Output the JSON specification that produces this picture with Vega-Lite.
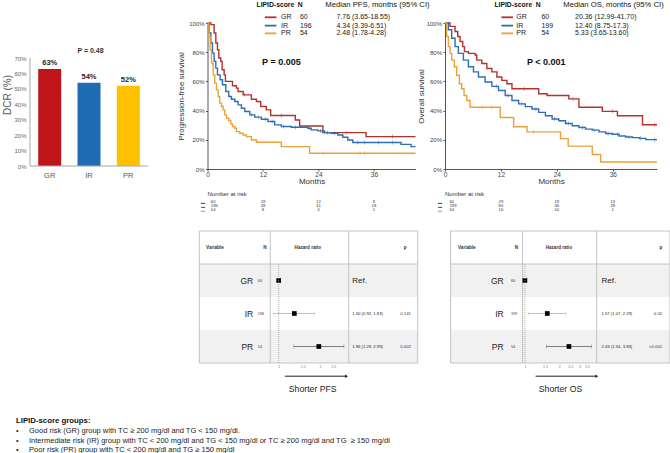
{
 "padding": {"left": 2, "top": 1, "right": 0, "bottom": 0},
 "config": {
  "font": "Liberation Sans",
  "view": {"stroke": null},
  "axis": {"grid": false, "domainColor": "#555", "tickColor": "#555", "labelColor": "#444", "titleColor": "#333", "titleFontWeight": "normal", "labelOverlap": false}
 },
 "datasets": {
  "dcr": [{"group": "GR", "dcr": 0.63}, {"group": "IR", "dcr": 0.54}, {"group": "PR", "dcr": 0.52}],
  "pfs": [
   {"group": "GR", "t": 0, "s": 1}, {"group": "GR", "t": 0.72, "s": 0.989}, {"group": "GR", "t": 1.44, "s": 0.931}, {"group": "GR", "t": 1.8, "s": 0.863}, {"group": "GR", "t": 2.16, "s": 0.817}, {"group": "GR", "t": 2.45, "s": 0.76}, {"group": "GR", "t": 2.88, "s": 0.737}, {"group": "GR", "t": 3.17, "s": 0.68}, {"group": "GR", "t": 3.6, "s": 0.645}, {"group": "GR", "t": 3.88, "s": 0.6}, {"group": "GR", "t": 5.4, "s": 0.57}, {"group": "GR", "t": 6.26, "s": 0.554}, {"group": "GR", "t": 6.62, "s": 0.531}, {"group": "GR", "t": 7.7, "s": 0.508}, {"group": "GR", "t": 9.5, "s": 0.478}, {"group": "GR", "t": 10.58, "s": 0.462}, {"group": "GR", "t": 11.51, "s": 0.428}, {"group": "GR", "t": 12.73, "s": 0.405}, {"group": "GR", "t": 13.67, "s": 0.366}, {"group": "GR", "t": 19.0, "s": 0.336}, {"group": "GR", "t": 19.93, "s": 0.295}, {"group": "GR", "t": 24.96, "s": 0.249}, {"group": "GR", "t": 34.3, "s": 0.222}, {"group": "GR", "t": 45, "s": 0.222},
   {"group": "IR", "t": 0, "s": 1}, {"group": "IR", "t": 0.36, "s": 0.931}, {"group": "IR", "t": 0.72, "s": 0.863}, {"group": "IR", "t": 1.08, "s": 0.794}, {"group": "IR", "t": 1.44, "s": 0.737}, {"group": "IR", "t": 1.8, "s": 0.691}, {"group": "IR", "t": 2.16, "s": 0.645}, {"group": "IR", "t": 2.73, "s": 0.611}, {"group": "IR", "t": 3.24, "s": 0.577}, {"group": "IR", "t": 3.96, "s": 0.531}, {"group": "IR", "t": 4.6, "s": 0.497}, {"group": "IR", "t": 5.18, "s": 0.478}, {"group": "IR", "t": 5.9, "s": 0.462}, {"group": "IR", "t": 6.62, "s": 0.439}, {"group": "IR", "t": 7.34, "s": 0.416}, {"group": "IR", "t": 8.06, "s": 0.394}, {"group": "IR", "t": 9.14, "s": 0.371}, {"group": "IR", "t": 10.22, "s": 0.355}, {"group": "IR", "t": 11.65, "s": 0.341}, {"group": "IR", "t": 13.09, "s": 0.325}, {"group": "IR", "t": 14.53, "s": 0.302}, {"group": "IR", "t": 15.97, "s": 0.291}, {"group": "IR", "t": 18.13, "s": 0.286}, {"group": "IR", "t": 21.73, "s": 0.279}, {"group": "IR", "t": 22.45, "s": 0.268}, {"group": "IR", "t": 23.88, "s": 0.261}, {"group": "IR", "t": 25.32, "s": 0.249}, {"group": "IR", "t": 26.76, "s": 0.245}, {"group": "IR", "t": 28.2, "s": 0.233}, {"group": "IR", "t": 29.28, "s": 0.217}, {"group": "IR", "t": 30.36, "s": 0.199}, {"group": "IR", "t": 31.44, "s": 0.181}, {"group": "IR", "t": 41.87, "s": 0.169}, {"group": "IR", "t": 44.03, "s": 0.153}, {"group": "IR", "t": 45, "s": 0.153},
   {"group": "PR", "t": 0, "s": 1}, {"group": "PR", "t": 0.29, "s": 0.908}, {"group": "PR", "t": 0.58, "s": 0.817}, {"group": "PR", "t": 0.86, "s": 0.725}, {"group": "PR", "t": 1.22, "s": 0.645}, {"group": "PR", "t": 1.58, "s": 0.588}, {"group": "PR", "t": 1.94, "s": 0.542}, {"group": "PR", "t": 2.3, "s": 0.497}, {"group": "PR", "t": 2.66, "s": 0.451}, {"group": "PR", "t": 3.02, "s": 0.428}, {"group": "PR", "t": 3.38, "s": 0.405}, {"group": "PR", "t": 3.74, "s": 0.371}, {"group": "PR", "t": 4.1, "s": 0.348}, {"group": "PR", "t": 4.6, "s": 0.332}, {"group": "PR", "t": 5.04, "s": 0.309}, {"group": "PR", "t": 5.4, "s": 0.291}, {"group": "PR", "t": 5.9, "s": 0.279}, {"group": "PR", "t": 6.26, "s": 0.256}, {"group": "PR", "t": 6.98, "s": 0.245}, {"group": "PR", "t": 7.7, "s": 0.233}, {"group": "PR", "t": 8.42, "s": 0.222}, {"group": "PR", "t": 9.5, "s": 0.199}, {"group": "PR", "t": 10.58, "s": 0.183}, {"group": "PR", "t": 15.97, "s": 0.153}, {"group": "PR", "t": 22.09, "s": 0.108}, {"group": "PR", "t": 45, "s": 0.108}
  ],
  "pfsCens": [
   {"group": "IR", "t": 9.5, "s": 0.371}, {"group": "IR", "t": 11, "s": 0.355}, {"group": "IR", "t": 12.5, "s": 0.341}, {"group": "IR", "t": 14, "s": 0.325}, {"group": "IR", "t": 16.5, "s": 0.291}, {"group": "IR", "t": 19, "s": 0.286}, {"group": "IR", "t": 22, "s": 0.279}, {"group": "IR", "t": 24.5, "s": 0.261}, {"group": "IR", "t": 27.5, "s": 0.245}, {"group": "IR", "t": 32.5, "s": 0.181}, {"group": "IR", "t": 34, "s": 0.181}, {"group": "IR", "t": 37, "s": 0.181}, {"group": "IR", "t": 40, "s": 0.181},
   {"group": "GR", "t": 8, "s": 0.508}, {"group": "GR", "t": 16, "s": 0.366}, {"group": "GR", "t": 26, "s": 0.249}, {"group": "GR", "t": 30, "s": 0.249}, {"group": "GR", "t": 40, "s": 0.222},
   {"group": "PR", "t": 25, "s": 0.108}, {"group": "PR", "t": 33, "s": 0.108}, {"group": "PR", "t": 34, "s": 0.108}
  ],
  "os": [
   {"group": "GR", "t": 0, "s": 1}, {"group": "GR", "t": 1.08, "s": 0.977}, {"group": "GR", "t": 2.16, "s": 0.942}, {"group": "GR", "t": 2.73, "s": 0.908}, {"group": "GR", "t": 3.23, "s": 0.873}, {"group": "GR", "t": 3.81, "s": 0.838}, {"group": "GR", "t": 4.17, "s": 0.804}, {"group": "GR", "t": 5.03, "s": 0.792}, {"group": "GR", "t": 6.47, "s": 0.781}, {"group": "GR", "t": 6.82, "s": 0.746}, {"group": "GR", "t": 7.9, "s": 0.723}, {"group": "GR", "t": 8.98, "s": 0.688}, {"group": "GR", "t": 10.06, "s": 0.665}, {"group": "GR", "t": 11.14, "s": 0.63}, {"group": "GR", "t": 12.21, "s": 0.607}, {"group": "GR", "t": 13.29, "s": 0.584}, {"group": "GR", "t": 14.37, "s": 0.55}, {"group": "GR", "t": 20.11, "s": 0.515}, {"group": "GR", "t": 21.91, "s": 0.503}, {"group": "GR", "t": 26.58, "s": 0.48}, {"group": "GR", "t": 28.74, "s": 0.423}, {"group": "GR", "t": 33.76, "s": 0.395}, {"group": "GR", "t": 37.0, "s": 0.365}, {"group": "GR", "t": 42.39, "s": 0.303}, {"group": "GR", "t": 45.5, "s": 0.303},
   {"group": "IR", "t": 0, "s": 1}, {"group": "IR", "t": 0.72, "s": 0.954}, {"group": "IR", "t": 1.44, "s": 0.896}, {"group": "IR", "t": 2.16, "s": 0.838}, {"group": "IR", "t": 2.87, "s": 0.792}, {"group": "IR", "t": 3.95, "s": 0.746}, {"group": "IR", "t": 5.03, "s": 0.7}, {"group": "IR", "t": 6.11, "s": 0.665}, {"group": "IR", "t": 7.18, "s": 0.63}, {"group": "IR", "t": 8.62, "s": 0.596}, {"group": "IR", "t": 10.06, "s": 0.566}, {"group": "IR", "t": 11.49, "s": 0.538}, {"group": "IR", "t": 12.93, "s": 0.503}, {"group": "IR", "t": 14.37, "s": 0.469}, {"group": "IR", "t": 15.8, "s": 0.446}, {"group": "IR", "t": 17.24, "s": 0.427}, {"group": "IR", "t": 18.68, "s": 0.411}, {"group": "IR", "t": 20.11, "s": 0.388}, {"group": "IR", "t": 21.55, "s": 0.365}, {"group": "IR", "t": 22.99, "s": 0.342}, {"group": "IR", "t": 24.43, "s": 0.33}, {"group": "IR", "t": 25.86, "s": 0.312}, {"group": "IR", "t": 27.3, "s": 0.296}, {"group": "IR", "t": 28.74, "s": 0.284}, {"group": "IR", "t": 30.17, "s": 0.273}, {"group": "IR", "t": 31.61, "s": 0.266}, {"group": "IR", "t": 33.05, "s": 0.254}, {"group": "IR", "t": 34.48, "s": 0.243}, {"group": "IR", "t": 35.92, "s": 0.238}, {"group": "IR", "t": 37.36, "s": 0.226}, {"group": "IR", "t": 38.79, "s": 0.219}, {"group": "IR", "t": 40.23, "s": 0.215}, {"group": "IR", "t": 41.67, "s": 0.21}, {"group": "IR", "t": 43.1, "s": 0.201}, {"group": "IR", "t": 45.5, "s": 0.201},
   {"group": "PR", "t": 0, "s": 1}, {"group": "PR", "t": 0.36, "s": 0.908}, {"group": "PR", "t": 0.72, "s": 0.838}, {"group": "PR", "t": 1.08, "s": 0.792}, {"group": "PR", "t": 1.44, "s": 0.746}, {"group": "PR", "t": 2.01, "s": 0.7}, {"group": "PR", "t": 2.51, "s": 0.642}, {"group": "PR", "t": 3.09, "s": 0.584}, {"group": "PR", "t": 3.59, "s": 0.55}, {"group": "PR", "t": 4.09, "s": 0.503}, {"group": "PR", "t": 4.67, "s": 0.469}, {"group": "PR", "t": 5.39, "s": 0.423}, {"group": "PR", "t": 11.85, "s": 0.353}, {"group": "PR", "t": 14.73, "s": 0.289}, {"group": "PR", "t": 17.6, "s": 0.254}, {"group": "PR", "t": 24.78, "s": 0.208}, {"group": "PR", "t": 26.44, "s": 0.157}, {"group": "PR", "t": 31.61, "s": 0.099}, {"group": "PR", "t": 33.41, "s": 0.048}, {"group": "PR", "t": 45.5, "s": 0.048}
  ],
  "osCens": [
   {"group": "IR", "t": 11, "s": 0.566}, {"group": "IR", "t": 13.5, "s": 0.503}, {"group": "IR", "t": 16.5, "s": 0.446}, {"group": "IR", "t": 19.5, "s": 0.411}, {"group": "IR", "t": 23.5, "s": 0.342}, {"group": "IR", "t": 26.5, "s": 0.312}, {"group": "IR", "t": 29.5, "s": 0.284}, {"group": "IR", "t": 32, "s": 0.266}, {"group": "IR", "t": 35, "s": 0.243}, {"group": "IR", "t": 37, "s": 0.238}, {"group": "IR", "t": 39.5, "s": 0.219}, {"group": "IR", "t": 42, "s": 0.21}, {"group": "IR", "t": 45, "s": 0.201},
   {"group": "GR", "t": 17, "s": 0.55}, {"group": "GR", "t": 27.5, "s": 0.48}, {"group": "GR", "t": 36, "s": 0.395}, {"group": "GR", "t": 45, "s": 0.303},
   {"group": "PR", "t": 8, "s": 0.423}, {"group": "PR", "t": 10, "s": 0.423}, {"group": "PR", "t": 19, "s": 0.254}
  ],
  "pfsLegend": [{"group": "GR", "n": "60", "median": "7.76 (3.65-18.55)"}, {"group": "IR", "n": "196", "median": "4.34 (3.39-6.51)"}, {"group": "PR", "n": "54", "median": "2.48 (1.78-4.28)"}],
  "osLegend": [{"group": "GR", "n": "60", "median": "20.36 (12.99-41.70)"}, {"group": "IR", "n": "199", "median": "12.40 (8.75-17.3)"}, {"group": "PR", "n": "54", "median": "5.33 (3.65-13.60)"}],
  "pfsRisk": [
   {"group": "GR", "time": 0, "n": 60}, {"group": "GR", "time": 12, "n": 19}, {"group": "GR", "time": 24, "n": 12}, {"group": "GR", "time": 36, "n": 8},
   {"group": "IR", "time": 0, "n": 196}, {"group": "IR", "time": 12, "n": 49}, {"group": "IR", "time": 24, "n": 31}, {"group": "IR", "time": 36, "n": 18},
   {"group": "PR", "time": 0, "n": 54}, {"group": "PR", "time": 12, "n": 8}, {"group": "PR", "time": 24, "n": 4}, {"group": "PR", "time": 36, "n": 1}
  ],
  "osRisk": [
   {"group": "GR", "time": 0, "n": 60}, {"group": "GR", "time": 12, "n": 29}, {"group": "GR", "time": 24, "n": 19}, {"group": "GR", "time": 36, "n": 13},
   {"group": "IR", "time": 0, "n": 199}, {"group": "IR", "time": 12, "n": 84}, {"group": "IR", "time": 24, "n": 46}, {"group": "IR", "time": 36, "n": 28},
   {"group": "PR", "time": 0, "n": 54}, {"group": "PR", "time": 12, "n": 16}, {"group": "PR", "time": 24, "n": 10}, {"group": "PR", "time": 36, "n": 1}
  ],
  "pfsHR": [
   {"group": "GR", "n": "60", "hr": 1, "lo": null, "hi": null, "hrText": "Ref.", "p": ""},
   {"group": "IR", "n": "196", "hr": 1.30, "lo": 0.92, "hi": 1.83, "hrText": "1.30 (0.92, 1.83)", "p": "0.141"},
   {"group": "PR", "n": "54", "hr": 1.96, "lo": 1.29, "hi": 2.99, "hrText": "1.96 (1.29, 2.99)", "p": "0.002"}
  ],
  "osHR": [
   {"group": "GR", "n": "60", "hr": 1, "lo": null, "hi": null, "hrText": "Ref.", "p": ""},
   {"group": "IR", "n": "199", "hr": 1.57, "lo": 1.07, "hi": 2.29, "hrText": "1.57 (1.07, 2.29)", "p": "0.02"},
   {"group": "PR", "n": "54", "hr": 2.43, "lo": 1.54, "hi": 3.83, "hrText": "2.43 (1.54, 3.83)", "p": "<0.001"}
  ]
 },
 "title": {
  "text": "LIPID-score groups:",
  "subtitle": [
   "•\u00a0\u00a0\u00a0\u00a0\u00a0Good risk (GR) group with TC ≥ 200 mg/dl and TG < 150 mg/dl.",
   "•\u00a0\u00a0\u00a0\u00a0\u00a0Intermediate risk (IR) group with TC < 200 mg/dl and TG < 150 mg/dl or TC ≥ 200 mg/dl and TG \u00a0≥ 150 mg/dl",
   "•\u00a0\u00a0\u00a0\u00a0\u00a0Poor risk (PR) group with TC < 200 mg/dl and TG ≥ 150 mg/dl"
  ],
  "orient": "bottom", "anchor": "start", "frame": "bounds", "offset": 23, "dx": 13,
  "fontSize": 7.8, "fontWeight": "bold", "color": "#111",
  "subtitleFontSize": 7.5, "subtitleColor": "#222", "subtitleLineHeight": 9.8, "subtitlePadding": 2
 },
 "resolve": {"scale": {"color": "independent"}},
 "spacing": 17,
 "vconcat": [
  {
   "spacing": 5,
   "resolve": {"scale": {"color": "independent"}},
   "vconcat": [
    {
     "bounds": "flush", "spacing": 29.5,
     "resolve": {"scale": {"color": "independent"}},
     "hconcat": [
      {
       "width": 147.5, "height": 143,
       "resolve": {"scale": {"x": "independent"}},
       "layer": [
        {
         "data": {"name": "dcr"},
         "encoding": {
          "x": {"field": "group", "type": "nominal", "scale": {"domain": ["GR", "IR", "PR"], "paddingInner": 0.415, "paddingOuter": 0.584, "align": 0.179}, "axis": {"title": null, "labelAngle": 0, "domain": false, "ticks": false, "tickSize": 0, "labelFontSize": 7.5, "labelColor": "#595959", "labelPadding": 5}},
          "y": {"field": "dcr", "type": "quantitative", "scale": {"domain": [0, 0.928], "nice": false}, "axis": {"values": [0, 0.1, 0.2, 0.3, 0.4, 0.5, 0.6, 0.7], "tickCount": 8, "format": ".0%", "title": "DCR (%)", "domain": false, "ticks": false, "tickSize": 0, "labelFontSize": 6, "labelColor": "#666", "labelPadding": 4, "titleFontSize": 10, "titleColor": "#595959", "titlePadding": 1}}
         },
         "layer": [
          {"mark": {"type": "bar"}, "encoding": {"color": {"field": "group", "type": "nominal", "scale": {"domain": ["GR", "IR", "PR"], "range": ["#C0141B", "#1F6CB5", "#FFC000"]}, "legend": null}}},
          {"mark": {"type": "text", "dy": -6, "fontWeight": "bold", "fontSize": 7.5, "color": "#262626"}, "encoding": {"text": {"field": "dcr", "type": "quantitative", "format": ".0%"}}}
         ]
        },
        {
         "data": {"values": [{}]},
         "layer": [
          {"mark": {"type": "rule", "color": "#a6a6a6", "strokeWidth": 1}, "encoding": {"x": {"datum": 0, "type": "quantitative", "scale": {"domain": [0, 1], "nice": false}, "axis": null}, "x2": {"datum": 0.8}, "y": {"datum": 0}}},
          {"mark": {"type": "rule", "color": "#a6a6a6", "strokeWidth": 1}, "encoding": {"x": {"datum": 0, "type": "quantitative"}, "y": {"datum": 0}, "y2": {"datum": 0.7}}},
          {"mark": {"type": "text", "text": "P = 0.48", "fontWeight": "bold", "fontSize": 7, "color": "#333"}, "encoding": {"x": {"datum": 0.41}, "y": {"datum": 0.746}}}
         ]
        }
       ]
      },
      {
       "width": 208, "height": 146,
       "layer": [
        {
         "data": {"name": "pfs"},
         "mark": {"type": "line", "interpolate": "step-after", "strokeWidth": 1.4},
         "encoding": {
          "x": {"field": "t", "type": "quantitative", "scale": {"domain": [0, 45], "nice": false}, "axis": {"values": [0, 12, 24, 36], "tickCount": 4, "title": "Months", "labelFontSize": 6.5, "titleFontSize": 8, "tickSize": 2, "labelPadding": 0, "titlePadding": -0.5, "labelFlush": false}},
          "y": {"field": "s", "type": "quantitative", "scale": {"domain": [0, 1], "nice": false}, "axis": {"values": [0, 0.2, 0.4, 0.6, 0.8, 1], "tickCount": 6, "format": ".0%", "title": "Progression-free survival", "labelFontSize": 6, "titleFontSize": 8, "tickSize": 2, "labelPadding": 1.5, "titlePadding": 3}},
          "color": {"field": "group", "type": "nominal", "scale": {"domain": ["GR", "IR", "PR"], "range": ["#B5312B", "#2E6FB3", "#E9A23B"]}, "legend": null}
         }
        },
        {"data": {"name": "pfsCens"}, "mark": {"type": "tick", "orient": "vertical", "size": 4, "thickness": 0.7}, "encoding": {"x": {"field": "t", "type": "quantitative"}, "y": {"field": "s", "type": "quantitative"}, "color": {"field": "group", "type": "nominal"}}},
        {"data": {"values": [{}]}, "mark": {"type": "text", "text": "P = 0.005", "fontSize": 9, "fontWeight": "bold", "align": "left", "color": "#111"}, "encoding": {"x": {"datum": 11.8}, "y": {"datum": 0.733}}},
        {
         "data": {"values": [{}]}, "encoding": {"y": {"datum": 1.123}},
         "layer": [
          {"mark": {"type": "text", "text": "LIPID-score", "fontSize": 6.8, "fontWeight": "bold", "align": "left", "color": "#111"}, "encoding": {"x": {"datum": 10.6}}},
          {"mark": {"type": "text", "text": "N", "fontSize": 6.8, "fontWeight": "bold", "align": "left", "color": "#111"}, "encoding": {"x": {"datum": 19.5}}},
          {"mark": {"type": "text", "text": "Median PFS, months (95% CI)", "fontSize": 7.7, "align": "left", "color": "#111"}, "encoding": {"x": {"datum": 25.5}}}
         ]
        },
        {
         "data": {"name": "pfsLegend"}, "transform": [{"filter": "datum.group == 'GR'"}], "encoding": {"y": {"datum": 1.039}},
         "layer": [
          {"mark": {"type": "rule", "strokeWidth": 1.8}, "encoding": {"x": {"datum": 12.4}, "x2": {"datum": 14.9}, "color": {"field": "group", "type": "nominal"}}},
          {"mark": {"type": "text", "align": "left", "fontSize": 7, "color": "#222"}, "encoding": {"x": {"datum": 15.9}, "text": {"field": "group"}}},
          {"mark": {"type": "text", "align": "left", "fontSize": 7, "color": "#222"}, "encoding": {"x": {"datum": 20.0}, "text": {"field": "n"}}},
          {"mark": {"type": "text", "align": "left", "fontSize": 7, "color": "#222"}, "encoding": {"x": {"datum": 27.9}, "text": {"field": "median"}}}
         ]
        },
        {
         "data": {"name": "pfsLegend"}, "transform": [{"filter": "datum.group == 'IR'"}], "encoding": {"y": {"datum": 0.982}},
         "layer": [
          {"mark": {"type": "rule", "strokeWidth": 1.8}, "encoding": {"x": {"datum": 12.4}, "x2": {"datum": 14.9}, "color": {"field": "group", "type": "nominal"}}},
          {"mark": {"type": "text", "align": "left", "fontSize": 7, "color": "#222"}, "encoding": {"x": {"datum": 15.9}, "text": {"field": "group"}}},
          {"mark": {"type": "text", "align": "left", "fontSize": 7, "color": "#222"}, "encoding": {"x": {"datum": 20.0}, "text": {"field": "n"}}},
          {"mark": {"type": "text", "align": "left", "fontSize": 7, "color": "#222"}, "encoding": {"x": {"datum": 27.9}, "text": {"field": "median"}}}
         ]
        },
        {
         "data": {"name": "pfsLegend"}, "transform": [{"filter": "datum.group == 'PR'"}], "encoding": {"y": {"datum": 0.929}},
         "layer": [
          {"mark": {"type": "rule", "strokeWidth": 1.8}, "encoding": {"x": {"datum": 12.4}, "x2": {"datum": 14.9}, "color": {"field": "group", "type": "nominal"}}},
          {"mark": {"type": "text", "align": "left", "fontSize": 7, "color": "#222"}, "encoding": {"x": {"datum": 15.9}, "text": {"field": "group"}}},
          {"mark": {"type": "text", "align": "left", "fontSize": 7, "color": "#222"}, "encoding": {"x": {"datum": 20.0}, "text": {"field": "n"}}},
          {"mark": {"type": "text", "align": "left", "fontSize": 7, "color": "#222"}, "encoding": {"x": {"datum": 27.9}, "text": {"field": "median"}}}
         ]
        }
       ]
      },
      {
       "width": 212, "height": 146,
       "layer": [
        {
         "data": {"name": "os"},
         "mark": {"type": "line", "interpolate": "step-after", "strokeWidth": 1.4},
         "encoding": {
          "x": {"field": "t", "type": "quantitative", "scale": {"domain": [0, 45.5], "nice": false}, "axis": {"values": [0, 12, 24, 36], "tickCount": 4, "title": "Months", "labelFontSize": 6.5, "titleFontSize": 8, "tickSize": 2, "labelPadding": 0, "titlePadding": -0.5, "labelFlush": false}},
          "y": {"field": "s", "type": "quantitative", "scale": {"domain": [0, 1], "nice": false}, "axis": {"values": [0, 0.2, 0.4, 0.6, 0.8, 1], "tickCount": 6, "format": ".0%", "title": "Overall survival", "labelFontSize": 6, "titleFontSize": 8, "tickSize": 2, "labelPadding": 1.5, "titlePadding": 1}},
          "color": {"field": "group", "type": "nominal", "scale": {"domain": ["GR", "IR", "PR"], "range": ["#B5312B", "#2E6FB3", "#E9A23B"]}, "legend": null}
         }
        },
        {"data": {"name": "osCens"}, "mark": {"type": "tick", "orient": "vertical", "size": 4, "thickness": 0.7}, "encoding": {"x": {"field": "t", "type": "quantitative"}, "y": {"field": "s", "type": "quantitative"}, "color": {"field": "group", "type": "nominal"}}},
        {"data": {"values": [{}]}, "mark": {"type": "text", "text": "P < 0.001", "fontSize": 9, "fontWeight": "bold", "align": "left", "color": "#111"}, "encoding": {"x": {"datum": 17.6}, "y": {"datum": 0.733}}},
        {
         "data": {"values": [{}]}, "encoding": {"y": {"datum": 1.123}},
         "layer": [
          {"mark": {"type": "text", "text": "LIPID-score", "fontSize": 6.8, "fontWeight": "bold", "align": "left", "color": "#111"}, "encoding": {"x": {"datum": 10.6}}},
          {"mark": {"type": "text", "text": "N", "fontSize": 6.8, "fontWeight": "bold", "align": "left", "color": "#111"}, "encoding": {"x": {"datum": 19.5}}},
          {"mark": {"type": "text", "text": "Median OS, months (95% CI)", "fontSize": 7.7, "align": "left", "color": "#111"}, "encoding": {"x": {"datum": 25.4}}}
         ]
        },
        {
         "data": {"name": "osLegend"}, "transform": [{"filter": "datum.group == 'GR'"}], "encoding": {"y": {"datum": 1.039}},
         "layer": [
          {"mark": {"type": "rule", "strokeWidth": 1.8}, "encoding": {"x": {"datum": 12.1}, "x2": {"datum": 14.6}, "color": {"field": "group", "type": "nominal"}}},
          {"mark": {"type": "text", "align": "left", "fontSize": 7, "color": "#222"}, "encoding": {"x": {"datum": 15.3}, "text": {"field": "group"}}},
          {"mark": {"type": "text", "align": "left", "fontSize": 7, "color": "#222"}, "encoding": {"x": {"datum": 20.7}, "text": {"field": "n"}}},
          {"mark": {"type": "text", "align": "left", "fontSize": 7, "color": "#222"}, "encoding": {"x": {"datum": 27.9}, "text": {"field": "median"}}}
         ]
        },
        {
         "data": {"name": "osLegend"}, "transform": [{"filter": "datum.group == 'IR'"}], "encoding": {"y": {"datum": 0.982}},
         "layer": [
          {"mark": {"type": "rule", "strokeWidth": 1.8}, "encoding": {"x": {"datum": 12.1}, "x2": {"datum": 14.6}, "color": {"field": "group", "type": "nominal"}}},
          {"mark": {"type": "text", "align": "left", "fontSize": 7, "color": "#222"}, "encoding": {"x": {"datum": 15.3}, "text": {"field": "group"}}},
          {"mark": {"type": "text", "align": "left", "fontSize": 7, "color": "#222"}, "encoding": {"x": {"datum": 20.7}, "text": {"field": "n"}}},
          {"mark": {"type": "text", "align": "left", "fontSize": 7, "color": "#222"}, "encoding": {"x": {"datum": 27.9}, "text": {"field": "median"}}}
         ]
        },
        {
         "data": {"name": "osLegend"}, "transform": [{"filter": "datum.group == 'PR'"}], "encoding": {"y": {"datum": 0.929}},
         "layer": [
          {"mark": {"type": "rule", "strokeWidth": 1.8}, "encoding": {"x": {"datum": 12.1}, "x2": {"datum": 14.6}, "color": {"field": "group", "type": "nominal"}}},
          {"mark": {"type": "text", "align": "left", "fontSize": 7, "color": "#222"}, "encoding": {"x": {"datum": 15.3}, "text": {"field": "group"}}},
          {"mark": {"type": "text", "align": "left", "fontSize": 7, "color": "#222"}, "encoding": {"x": {"datum": 20.7}, "text": {"field": "n"}}},
          {"mark": {"type": "text", "align": "left", "fontSize": 7, "color": "#222"}, "encoding": {"x": {"datum": 27.9}, "text": {"field": "median"}}}
         ]
        }
       ]
      }
     ]
    },
    {
     "bounds": "flush", "spacing": 29.5,
     "resolve": {"scale": {"color": "independent"}},
     "hconcat": [
      {"width": 147.5, "height": 12, "data": {"values": []}, "mark": "point"},
      {
       "width": 208, "height": 12,
       "title": {"text": "Number at risk", "anchor": "start", "frame": "group", "fontSize": 6, "fontWeight": "normal", "offset": 3.3, "color": "#333"},
       "data": {"name": "pfsRisk"},
       "mark": {"type": "text", "fontSize": 4.2, "color": "#333", "align": {"expr": "datum.time == 0 ? 'left' : 'center'"}, "dx": {"expr": "datum.time == 0 ? 3.3 : 0"}},
       "encoding": {
        "x": {"field": "time", "type": "quantitative", "scale": {"domain": [0, 45], "nice": false}, "axis": null},
        "y": {"field": "group", "type": "nominal", "scale": {"domain": ["GR", "IR", "PR"], "paddingInner": 0, "paddingOuter": 0}, "axis": {"title": null, "domain": false, "ticks": false, "tickSize": 0, "labelExpr": "'▬'", "labelFontSize": 4, "labelPadding": 3, "labelColor": {"condition": [{"test": "datum.value === 'GR'", "value": "#B5312B"}, {"test": "datum.value === 'IR'", "value": "#2E6FB3"}], "value": "#E9A23B"}}},
        "text": {"field": "n", "type": "quantitative"}
       }
      },
      {
       "width": 212, "height": 12,
       "title": {"text": "Number at risk", "anchor": "start", "frame": "group", "fontSize": 6, "fontWeight": "normal", "offset": 3.3, "color": "#333"},
       "data": {"name": "osRisk"},
       "mark": {"type": "text", "fontSize": 4.2, "color": "#333", "align": {"expr": "datum.time == 0 ? 'left' : 'center'"}, "dx": {"expr": "datum.time == 0 ? 4.5 : 0"}},
       "encoding": {
        "x": {"field": "time", "type": "quantitative", "scale": {"domain": [0, 45.5], "nice": false}, "axis": null},
        "y": {"field": "group", "type": "nominal", "scale": {"domain": ["GR", "IR", "PR"], "paddingInner": 0, "paddingOuter": 0}, "axis": {"title": null, "domain": false, "ticks": false, "tickSize": 0, "labelExpr": "'▬'", "labelFontSize": 4, "labelPadding": 3.5, "labelColor": {"condition": [{"test": "datum.value === 'GR'", "value": "#B5312B"}, {"test": "datum.value === 'IR'", "value": "#2E6FB3"}], "value": "#E9A23B"}}},
        "text": {"field": "n", "type": "quantitative"}
       }
      }
     ]
    }
   ]
  },
  {
   "bounds": "flush", "spacing": 32.3,
   "resolve": {"scale": {"color": "independent"}},
   "hconcat": [
    {"width": 137, "height": 132, "data": {"values": []}, "mark": "point"},
    {
     "width": 218.4, "height": 132,
     "resolve": {"scale": {"x": "independent", "y": "independent"}},
     "layer": [
      {
       "data": {"name": "pfsHR"},
       "encoding": {"y": {"field": "group", "type": "nominal", "scale": {"domain": ["Variable", "GR", "IR", "PR"], "paddingInner": 0, "paddingOuter": 0}, "axis": null}},
       "layer": [
        {"mark": {"type": "rect"}, "encoding": {"x": {"datum": 0, "type": "quantitative", "scale": {"domain": [0, 1], "nice": false}, "axis": null}, "x2": {"datum": 1}, "color": {"condition": {"test": "datum.group !== 'IR'", "value": "#f1f1f1"}, "value": "#ffffff"}}},
        {"mark": {"type": "text", "align": "right", "fontSize": 8.5, "color": "#222"}, "encoding": {"x": {"datum": 0.247}, "text": {"field": "group"}}},
        {"mark": {"type": "text", "align": "left", "fontSize": 3.8, "color": "#333"}, "encoding": {"x": {"datum": 0.268}, "text": {"field": "n"}}},
        {"mark": {"type": "text", "align": "left", "color": "#222"}, "encoding": {"x": {"datum": 0.7}, "text": {"field": "hrText"}, "size": {"condition": {"test": "datum.group === 'GR'", "value": 8}, "value": 4.2}}},
        {"mark": {"type": "text", "align": "right", "fontSize": 4.3, "color": "#333"}, "encoding": {"x": {"datum": 0.969}, "text": {"field": "p"}}},
        {
         "data": {"values": [{}]}, "encoding": {"y": {"datum": "Variable"}},
         "layer": [
          {"mark": {"type": "text", "text": "Variable", "align": "left", "fontSize": 4.6, "fontWeight": "bold", "color": "#333"}, "encoding": {"x": {"datum": 0.031}}},
          {"mark": {"type": "text", "text": "N", "align": "center", "fontSize": 4.6, "fontWeight": "bold", "color": "#333"}, "encoding": {"x": {"datum": 0.30}}},
          {"mark": {"type": "text", "text": "Hazard ratio", "align": "center", "fontSize": 4.6, "fontWeight": "bold", "color": "#333"}, "encoding": {"x": {"datum": 0.497}}},
          {"mark": {"type": "text", "text": "p", "align": "center", "fontSize": 4.6, "fontWeight": "bold", "color": "#333"}, "encoding": {"x": {"datum": 0.943}}}
         ]
        }
       ]
      },
      {
       "data": {"values": [{}]},
       "layer": [
        {"mark": {"type": "rule", "color": "#c4c4c4"}, "encoding": {"x": {"datum": 0, "type": "quantitative", "scale": {"domain": [0, 1], "nice": false}, "axis": null}}},
        {"mark": {"type": "rule", "color": "#c4c4c4"}, "encoding": {"x": {"datum": 0.325}}},
        {"mark": {"type": "rule", "color": "#c4c4c4"}, "encoding": {"x": {"datum": 0.684}}},
        {"mark": {"type": "rule", "color": "#c4c4c4"}, "encoding": {"x": {"datum": 1}}},
        {"mark": {"type": "rule", "color": "#c4c4c4"}, "encoding": {"y": {"datum": 0, "type": "quantitative", "scale": {"domain": [0, 4], "reverse": true, "nice": false}, "axis": null}}},
        {"mark": {"type": "rule", "color": "#c4c4c4"}, "encoding": {"y": {"datum": 1}}},
        {"mark": {"type": "rule", "color": "#c4c4c4"}, "encoding": {"y": {"datum": 4}}}
       ]
      },
      {
       "data": {"name": "pfsHR"},
       "encoding": {"y": {"field": "group", "type": "nominal", "scale": {"domain": ["Variable", "GR", "IR", "PR"], "paddingInner": 0, "paddingOuter": 0}, "axis": null}},
       "layer": [
        {"mark": {"type": "rule", "strokeWidth": 0.8}, "encoding": {"x": {"field": "lo", "type": "quantitative", "scale": {"type": "log", "domain": [0.264, 10.3], "nice": false}, "axis": null}, "x2": {"field": "hi"}, "color": {"condition": {"test": "datum.group === 'IR'", "value": "#b0b0b0"}, "value": "#606060"}}},
        {"mark": {"type": "tick", "orient": "vertical", "size": 4, "thickness": 0.6}, "encoding": {"x": {"field": "lo", "type": "quantitative"}, "color": {"condition": {"test": "datum.group === 'IR'", "value": "#b0b0b0"}, "value": "#606060"}}},
        {"mark": {"type": "tick", "orient": "vertical", "size": 4, "thickness": 0.6}, "encoding": {"x": {"field": "hi", "type": "quantitative"}, "color": {"condition": {"test": "datum.group === 'IR'", "value": "#b0b0b0"}, "value": "#606060"}}},
        {"mark": {"type": "square", "filled": true, "size": 22, "color": "#000", "opacity": 1}, "encoding": {"x": {"field": "hr", "type": "quantitative"}}}
       ]
      },
      {
       "data": {"values": [{}]},
       "encoding": {"y": {"datum": 4.4, "type": "quantitative", "scale": {"domain": [0, 4], "reverse": true, "nice": false}, "axis": null}},
       "layer": [
        {"mark": {"type": "rule", "color": "#999", "strokeDash": [1, 1], "strokeWidth": 0.8}, "encoding": {"x": {"datum": 1, "type": "quantitative", "scale": {"type": "log", "domain": [0.264, 10.3], "nice": false}, "axis": {"values": [1, 1.5, 2, 2.5], "tickCount": 4, "format": ".2~f", "domain": false, "ticks": false, "tickSize": 0, "labelFontSize": 3.6, "labelPadding": 1, "labelColor": "#777", "title": null, "orient": "bottom", "labelFlush": false}}, "y": {"datum": 1}, "y2": {"datum": 4}}},
        {"mark": {"type": "rule", "color": "#222", "strokeWidth": 1}, "encoding": {"x": {"datum": 1.11}, "x2": {"datum": 3.05}}},
        {"mark": {"type": "point", "shape": "triangle-right", "filled": true, "size": 12, "color": "#222", "opacity": 1}, "encoding": {"x": {"datum": 3.12}}},
        {"mark": {"type": "text", "text": "Shorter PFS", "fontSize": 8.7, "color": "#222"}, "encoding": {"x": {"datum": 1.77}, "y": {"datum": 4.8}}}
       ]
      }
     ]
    },
    {
     "width": 219.3, "height": 132,
     "resolve": {"scale": {"x": "independent", "y": "independent"}},
     "layer": [
      {
       "data": {"name": "osHR"},
       "encoding": {"y": {"field": "group", "type": "nominal", "scale": {"domain": ["Variable", "GR", "IR", "PR"], "paddingInner": 0, "paddingOuter": 0}, "axis": null}},
       "layer": [
        {"mark": {"type": "rect"}, "encoding": {"x": {"datum": 0, "type": "quantitative", "scale": {"domain": [0, 1], "nice": false}, "axis": null}, "x2": {"datum": 1}, "color": {"condition": {"test": "datum.group !== 'IR'", "value": "#f1f1f1"}, "value": "#ffffff"}}},
        {"mark": {"type": "text", "align": "right", "fontSize": 8.5, "color": "#222"}, "encoding": {"x": {"datum": 0.242}, "text": {"field": "group"}}},
        {"mark": {"type": "text", "align": "left", "fontSize": 3.8, "color": "#333"}, "encoding": {"x": {"datum": 0.275}, "text": {"field": "n"}}},
        {"mark": {"type": "text", "align": "left", "color": "#222"}, "encoding": {"x": {"datum": 0.688}, "text": {"field": "hrText"}, "size": {"condition": {"test": "datum.group === 'GR'", "value": 8}, "value": 4.2}}},
        {"mark": {"type": "text", "align": "right", "fontSize": 4.3, "color": "#333"}, "encoding": {"x": {"datum": 0.965}, "text": {"field": "p"}}},
        {
         "data": {"values": [{}]}, "encoding": {"y": {"datum": "Variable"}},
         "layer": [
          {"mark": {"type": "text", "text": "Variable", "align": "left", "fontSize": 4.6, "fontWeight": "bold", "color": "#333"}, "encoding": {"x": {"datum": 0.034}}},
          {"mark": {"type": "text", "text": "N", "align": "center", "fontSize": 4.6, "fontWeight": "bold", "color": "#333"}, "encoding": {"x": {"datum": 0.30}}},
          {"mark": {"type": "text", "text": "Hazard ratio", "align": "center", "fontSize": 4.6, "fontWeight": "bold", "color": "#333"}, "encoding": {"x": {"datum": 0.494}}},
          {"mark": {"type": "text", "text": "p", "align": "center", "fontSize": 4.6, "fontWeight": "bold", "color": "#333"}, "encoding": {"x": {"datum": 0.959}}}
         ]
        }
       ]
      },
      {
       "data": {"values": [{}]},
       "layer": [
        {"mark": {"type": "rule", "color": "#c4c4c4"}, "encoding": {"x": {"datum": 0, "type": "quantitative", "scale": {"domain": [0, 1], "nice": false}, "axis": null}}},
        {"mark": {"type": "rule", "color": "#c4c4c4"}, "encoding": {"x": {"datum": 0.328}}},
        {"mark": {"type": "rule", "color": "#c4c4c4"}, "encoding": {"x": {"datum": 0.666}}},
        {"mark": {"type": "rule", "color": "#c4c4c4"}, "encoding": {"x": {"datum": 1}}},
        {"mark": {"type": "rule", "color": "#c4c4c4"}, "encoding": {"y": {"datum": 0, "type": "quantitative", "scale": {"domain": [0, 4], "reverse": true, "nice": false}, "axis": null}}},
        {"mark": {"type": "rule", "color": "#c4c4c4"}, "encoding": {"y": {"datum": 1}}},
        {"mark": {"type": "rule", "color": "#c4c4c4"}, "encoding": {"y": {"datum": 4}}}
       ]
      },
      {
       "data": {"name": "osHR"},
       "encoding": {"y": {"field": "group", "type": "nominal", "scale": {"domain": ["Variable", "GR", "IR", "PR"], "paddingInner": 0, "paddingOuter": 0}, "axis": null}},
       "layer": [
        {"mark": {"type": "rule", "strokeWidth": 0.8}, "encoding": {"x": {"field": "lo", "type": "quantitative", "scale": {"type": "log", "domain": [0.2236, 18.6], "nice": false}, "axis": null}, "x2": {"field": "hi"}, "color": {"condition": {"test": "datum.group === 'IR'", "value": "#b0b0b0"}, "value": "#606060"}}},
        {"mark": {"type": "tick", "orient": "vertical", "size": 4, "thickness": 0.6}, "encoding": {"x": {"field": "lo", "type": "quantitative"}, "color": {"condition": {"test": "datum.group === 'IR'", "value": "#b0b0b0"}, "value": "#606060"}}},
        {"mark": {"type": "tick", "orient": "vertical", "size": 4, "thickness": 0.6}, "encoding": {"x": {"field": "hi", "type": "quantitative"}, "color": {"condition": {"test": "datum.group === 'IR'", "value": "#b0b0b0"}, "value": "#606060"}}},
        {"mark": {"type": "square", "filled": true, "size": 22, "color": "#000", "opacity": 1}, "encoding": {"x": {"field": "hr", "type": "quantitative"}}}
       ]
      },
      {
       "data": {"values": [{}]},
       "encoding": {"y": {"datum": 4.4, "type": "quantitative", "scale": {"domain": [0, 4], "reverse": true, "nice": false}, "axis": null}},
       "layer": [
        {"mark": {"type": "rule", "color": "#999", "strokeDash": [1, 1], "strokeWidth": 0.8}, "encoding": {"x": {"datum": 1, "type": "quantitative", "scale": {"type": "log", "domain": [0.2236, 18.6], "nice": false}, "axis": {"values": [1, 1.5, 2, 2.5, 3, 3.5], "tickCount": 6, "format": ".2~f", "domain": false, "ticks": false, "tickSize": 0, "labelFontSize": 3.6, "labelPadding": 1, "labelColor": "#777", "title": null, "orient": "bottom", "labelFlush": false}}, "y": {"datum": 1}, "y2": {"datum": 4}}},
        {"mark": {"type": "rule", "color": "#222", "strokeWidth": 1}, "encoding": {"x": {"datum": 1.24}, "x2": {"datum": 4.15}}},
        {"mark": {"type": "point", "shape": "triangle-right", "filled": true, "size": 12, "color": "#222", "opacity": 1}, "encoding": {"x": {"datum": 4.25}}},
        {"mark": {"type": "text", "text": "Shorter OS", "fontSize": 8.7, "color": "#222"}, "encoding": {"x": {"datum": 2.05}, "y": {"datum": 4.8}}}
       ]
      }
     ]
    }
   ]
  }
 ]
}
